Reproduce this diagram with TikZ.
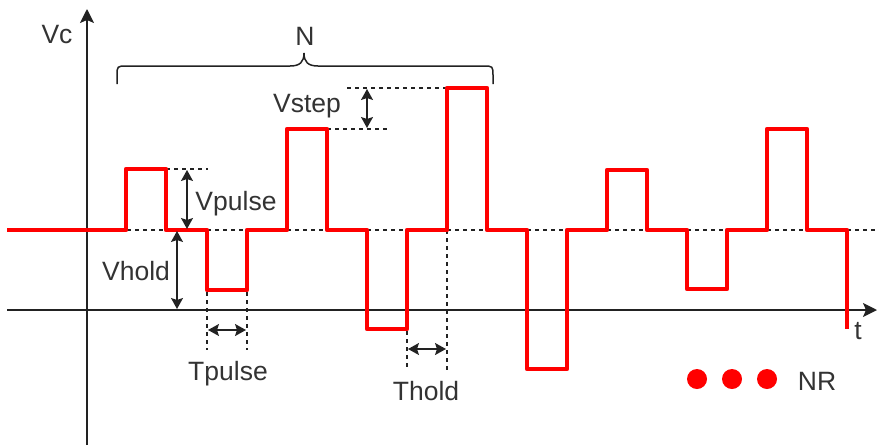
\documentclass[tikz,border=0pt]{standalone}
\usepackage{fontspec}
\setmainfont{Liberation Sans}
\usetikzlibrary{arrows.meta}
\definecolor{wave}{RGB}{255,0,0}
\definecolor{ink}{RGB}{34,34,34}
\definecolor{txt}{RGB}{51,51,51}
\begin{document}
\begin{tikzpicture}[x=1pt,y=-1pt,
  lbl/.style={font=\fontsize{26.5}{30}\selectfont, text=txt, inner sep=0pt, anchor=base},
  axisline/.style={draw=ink, line width=1.5pt, -{Stealth[length=14pt,width=14pt,inset=3pt]}},
  dimarrow/.style={draw=ink, line width=1.5pt, {Stealth[length=11pt,width=12pt,inset=2pt]}-{Stealth[length=11pt,width=12pt,inset=2pt]}},
  guide/.style={draw=ink, line width=1.2pt, dash pattern=on 4pt off 4pt},
  wavepath/.style={draw=wave, line width=4.5pt, line join=round},
  dotmark/.style={circle, fill=wave, inner sep=0pt, minimum size=20pt},
  bracestyle/.style={draw=ink, line width=1.5pt}]
\useasboundingbox (0,0) rectangle (877,445);

% axes
\coordinate (xs) at (7,310);
\coordinate (xe) at (877,310);
\coordinate (ys) at (87,445);
\coordinate (ye) at (87,9);
\draw[axisline] (xs) -- (xe);
\draw[axisline] (ys) -- (ye);

% dashed guides
\draw[guide] (127,230) -- (877,230);
\draw[guide] (166,169) -- (208,169);
\draw[guide] (207,292) -- (207,350);
\draw[guide] (247,292) -- (247,350);
\draw[guide] (407,331) -- (407,370);
\draw[guide] (447,230) -- (447,370);
\draw[guide] (347,88) -- (447,88);
\draw[guide] (327,129) -- (387,129);

% waveform
\draw[wavepath] (7,230) -- (126,230) -- (126,169) -- (166,169) -- (166,230)
  -- (207,230) -- (207,290) -- (247,290) -- (247,230)
  -- (287,230) -- (287,129) -- (327,129) -- (327,230)
  -- (367,230) -- (367,329) -- (407,329) -- (407,230)
  -- (447,230) -- (447,88) -- (487,88) -- (487,230)
  -- (527,230) -- (527,369) -- (567,369) -- (567,230)
  -- (607,230) -- (607,170) -- (647,170) -- (647,230)
  -- (687,230) -- (687,289) -- (727,289) -- (727,230)
  -- (767,230) -- (767,129) -- (807,129) -- (807,230)
  -- (847,230) -- (847,329);

% dimension arrows
\coordinate (vp1) at (187,170); \coordinate (vp2) at (187,229);
\coordinate (vh1) at (177,231); \coordinate (vh2) at (177,309);
\coordinate (tp1) at (208,330); \coordinate (tp2) at (246,330);
\coordinate (th1) at (408,349); \coordinate (th2) at (446,349);
\coordinate (vs1) at (367,89);  \coordinate (vs2) at (367,128);
\draw[dimarrow] (vp1) -- (vp2);
\draw[dimarrow] (vh1) -- (vh2);
\draw[dimarrow] (tp1) -- (tp2);
\draw[dimarrow] (th1) -- (th2);
\draw[dimarrow] (vs1) -- (vs2);

% brace
\draw[bracestyle] (117,84) -- (117,76) .. controls (117,66) .. (127,66) -- (290,66)
  .. controls (300,66) and (304,62) .. (304,53)
  .. controls (304,62) and (308,66) .. (318,66) -- (483,66)
  .. controls (493,66) .. (493,76) -- (493,84);

% labels
\node[lbl] (vc) at (57,43) {Vc};
\node[lbl] (n) at (305,45) {N};
\node[lbl] (vstep) at (307,112) {Vstep};
\node[lbl] (vpulse) at (236,210) {Vpulse};
\node[lbl] (vhold) at (136,280) {Vhold};
\node[lbl] (tpulse) at (228,380) {Tpulse};
\node[lbl] (thold) at (426,400) {Thold};
\node[lbl] (t) at (858,339) {t};
\node[lbl] (nr) at (817,390) {NR};

% dots
\node[dotmark] (d1) at (697,379) {};
\node[dotmark] (d2) at (732,379) {};
\node[dotmark] (d3) at (767,379) {};
\end{tikzpicture}
\end{document}
